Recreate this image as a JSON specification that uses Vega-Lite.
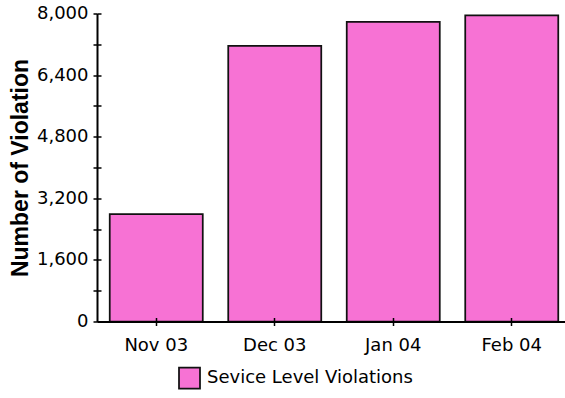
{
  "$schema": "https://vega.github.io/schema/vega-lite/v6.json",
  "width": 474,
  "height": 308,
  "autosize": {"type": "none"},
  "padding": {"left": 97, "top": 13.5, "right": 0, "bottom": 77},
  "background": "white",
  "config": {
    "view": {"stroke": null},
    "axis": {"domainColor": "#000", "tickColor": "#000", "labelColor": "#000", "titleColor": "#000", "domainWidth": 2, "tickWidth": 1.5, "grid": false, "zindex": 1}
  },
  "data": {
    "values": [
      {"month": "Nov 03", "value": 2790, "series": "Sevice Level Violations"},
      {"month": "Dec 03", "value": 7160, "series": "Sevice Level Violations"},
      {"month": "Jan 04", "value": 7780, "series": "Sevice Level Violations"},
      {"month": "Feb 04", "value": 7950, "series": "Sevice Level Violations"}
    ]
  },
  "resolve": {"axis": {"x": "independent", "y": "independent"}},
  "layer": [
    {
      "mark": {"type": "bar", "stroke": "#111", "strokeWidth": 1.75},
      "encoding": {
        "x": {
          "field": "month", "type": "nominal", "sort": null,
          "scale": {"paddingInner": 0.215, "paddingOuter": 0.1075},
          "axis": {"orient": "bottom", "title": null, "labelAngle": 0, "labelFont": "DejaVu Sans", "labelFontSize": 18, "tickSize": 4, "labelPadding": 11, "zindex": 1}
        },
        "y": {
          "field": "value", "type": "quantitative",
          "scale": {"domain": [0, 8000], "nice": false, "zero": true},
          "axis": {
            "orient": "left",
            "title": "Number of Violation",
            "titleFont": "Liberation Sans", "titleFontSize": 23, "titleFontWeight": "bold", "titlePadding": 4,
            "values": [0, 800, 1600, 2400, 3200, 4000, 4800, 5600, 6400, 7200, 8000],
            "labelExpr": "datum.value % 1600 === 0 ? format(datum.value, ',') : ''",
            "labelFont": "DejaVu Sans", "labelFontSize": 18, "tickSize": 4, "labelPadding": 5, "zindex": 1
          }
        },
        "color": {
          "field": "series", "type": "nominal",
          "scale": {"range": ["#f772d4"]},
          "legend": {
            "orient": "none", "legendX": 81, "legendY": 353, "title": null,
            "symbolType": "square", "symbolSize": 441, "symbolStrokeColor": "#111", "symbolStrokeWidth": 1.75,
            "labelFont": "DejaVu Sans", "labelFontSize": 18, "labelColor": "#000", "labelOffset": 6, "labelLimit": 400, "padding": 0
          }
        }
      }
    },
    {
      "mark": {"type": "bar", "opacity": 0},
      "encoding": {
        "x": {
          "field": "month", "type": "nominal", "sort": null,
          "axis": {"orient": "bottom", "title": null, "labels": false, "domain": false, "ticks": true, "tickSize": 4, "offset": -4, "zindex": 2}
        },
        "y": {
          "field": "value", "type": "quantitative",
          "axis": {"orient": "left", "title": null, "labels": false, "domain": false, "ticks": true, "tickSize": 4, "offset": -4, "zindex": 2,
            "values": [0, 800, 1600, 2400, 3200, 4000, 4800, 5600, 6400, 7200, 8000]}
        }
      }
    }
  ]
}
